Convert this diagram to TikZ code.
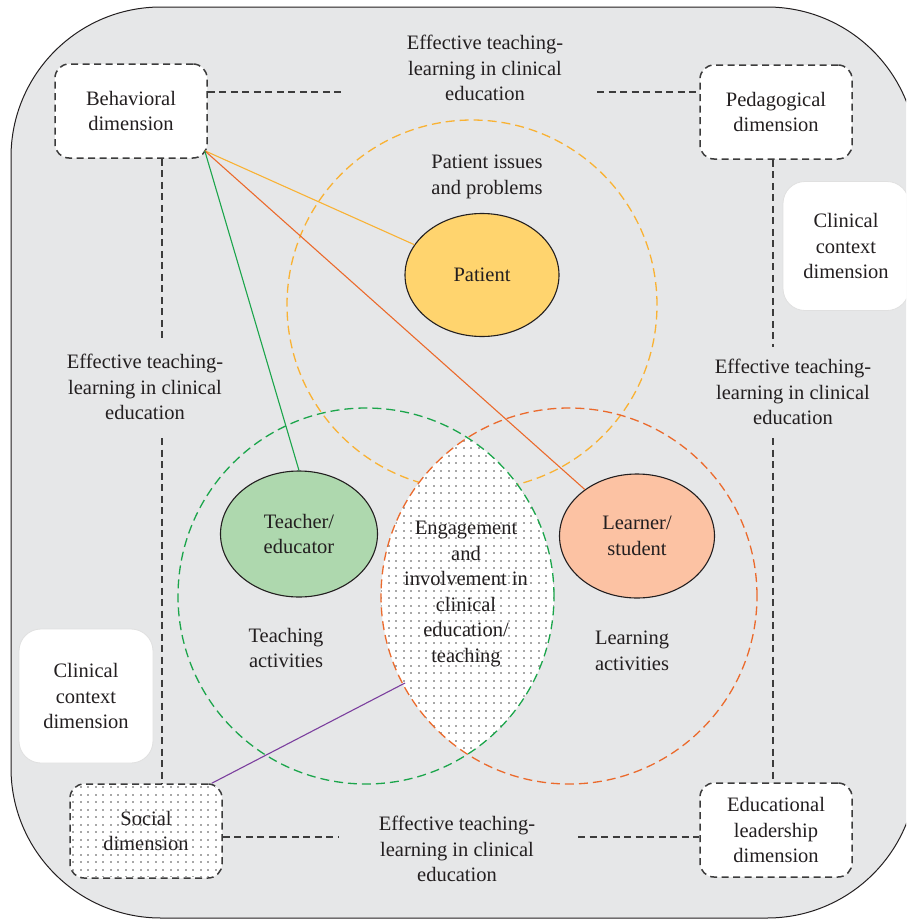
\documentclass[tikz,border=0pt]{standalone}
\usepackage{fontspec}
\setmainfont{Liberation Serif}
\usetikzlibrary{shapes.geometric}
\definecolor{bggray}{HTML}{E6E7E8}
\definecolor{dimgray}{HTML}{3C3C3C}
\definecolor{txt}{HTML}{231F20}
\definecolor{ylw}{HTML}{F9B233}
\definecolor{ylwfill}{HTML}{FFD46E}
\definecolor{grn}{HTML}{1BA54B}
\definecolor{grnfill}{HTML}{AED8AE}
\definecolor{org}{HTML}{EB6A2C}
\definecolor{orgfill}{HTML}{FCC2A3}
\definecolor{prp}{HTML}{7B3F9E}
\definecolor{dotgray}{HTML}{A8A8A8}
\begin{document}
\begin{tikzpicture}[x=1pt,y=-1pt,
  every node/.style={font=\fontsize{20.5}{25.5}\selectfont, text=txt, align=center},
  dimbox/.style={draw=dimgray, line width=1.5pt, dash pattern=on 7pt off 4.5pt,
    rounded corners=14pt, minimum width=152pt, minimum height=94pt, fill=white},
  ctxbox/.style={fill=white, draw=black!12, line width=0.8pt, rounded corners=22pt},
  dimline/.style={draw=dimgray, line width=1.5pt, dash pattern=on 7pt off 4.5pt},
  ring/.style={line width=1.3pt, dash pattern=on 9pt off 5pt},
  actor/.style={ellipse, draw=txt, line width=1.1pt, inner sep=0pt}]
\useasboundingbox (0,0) rectangle (906,921);
\clip (0,0) rectangle (906,921);
\draw[fill=bggray, draw=txt, line width=1pt, rounded corners=150pt] (11,7) rectangle (917,918);

% dimensions
\node[dimbox] (beh) at (131,111) {Behavioral\\dimension};
\node[dimbox] (ped) at (776,112) {Pedagogical\\dimension};
\node[dimbox] (soc) at (146,831) {};
\begin{scope}
\path[clip, rounded corners=12pt] ([xshift=2pt,yshift=2pt]soc.south west) rectangle ([xshift=-2pt,yshift=-2pt]soc.north east);
\foreach \x in {72,79.5,...,222} \foreach \y in {786,793.5,...,878} \fill[dotgray] (\x,\y) rectangle +(2.1,2.1);
\end{scope}
\node (soct) at (soc) {Social\\dimension};
\node[dimbox] (edu) at (776,830) {Educational\\leadership\\dimension};
\node[ctxbox, minimum width=134pt, minimum height=134pt] (ctxl) at (86,696) {Clinical\\context\\dimension};
\node[ctxbox, minimum width=126pt, minimum height=129pt] (ctxr) at (846,246) {Clinical\\context\\dimension};

% effective teaching-learning
\node (efft) at (485,68) {Effective teaching-\\learning in clinical\\education};
\node (effl) at (145,387) {Effective teaching-\\learning in clinical\\education};
\node (effr) at (793,392) {Effective teaching-\\learning in clinical\\education};
\node (effb) at (457,849) {Effective teaching-\\learning in clinical\\education};
\coordinate (t1) at (342,92); \coordinate (t2) at (597,92);
\coordinate (l1) at (162,338); \coordinate (l2) at (162,438);
\coordinate (r1) at (773,347); \coordinate (r2) at (773,438);
\coordinate (b1) at (339,837); \coordinate (b2) at (578,837);
\draw[dimline] (beh.east |- t1) -- (t1) (t2) -- (ped.west |- t2);
\draw[dimline] (beh.south -| l1) -- (l1) (l2) -- (soc.north -| l2);
\draw[dimline] (ped.south -| r1) -- (r1) (r2) -- (edu.north -| r2);
\draw[dimline] (soc.east |- b1) -- (b1) (b2) -- (edu.west |- b2);

% circles
\draw[ring, draw=ylw] (472,305) circle (185pt);
\begin{scope}
\clip (366,596) circle (188pt);
\clip (569,596) circle (188pt);
\fill[white] (380,400) rectangle (560,790);
\foreach \x in {380,387.5,...,560} \foreach \y in {402,409.5,...,790} \fill[dotgray] (\x,\y) rectangle +(2.1,2.1);
\end{scope}
\draw[ring, draw=grn] (366,596) circle (188pt);
\draw[ring, draw=org] (569,596) circle (188pt);

% actors
\node[actor, fill=ylwfill, minimum width=154pt, minimum height=123pt] (pat) at (482,275) {Patient};
\node[actor, fill=grnfill, minimum width=157pt, minimum height=126pt] (tch) at (299,534) {Teacher/\\educator};
\node[actor, fill=orgfill, minimum width=155pt, minimum height=124pt] (lrn) at (637,536) {Learner/\\student};
\node (iss) at (487,177) {Patient issues\\and problems};
\node (tact) at (286,648) {Teaching\\activities};
\node (lact) at (632,651) {Learning\\activities};
\node (eng) at (466,594) {Engagement\\and\\involvement in\\clinical\\education/\\teaching};

% links
\coordinate (bc) at ([xshift=-3pt,yshift=8pt]beh.south east);
\coordinate (lensw) at (405,683);
\draw[ylw, line width=1.1pt] (bc) -- (pat);
\draw[org, line width=1.1pt] (bc) -- (lrn);
\draw[grn, line width=1.1pt] (bc) -- (tch.north);
\draw[prp, line width=1.1pt] ([xshift=-11pt]soc.north east) -- (lensw);
\end{tikzpicture}
\end{document}
